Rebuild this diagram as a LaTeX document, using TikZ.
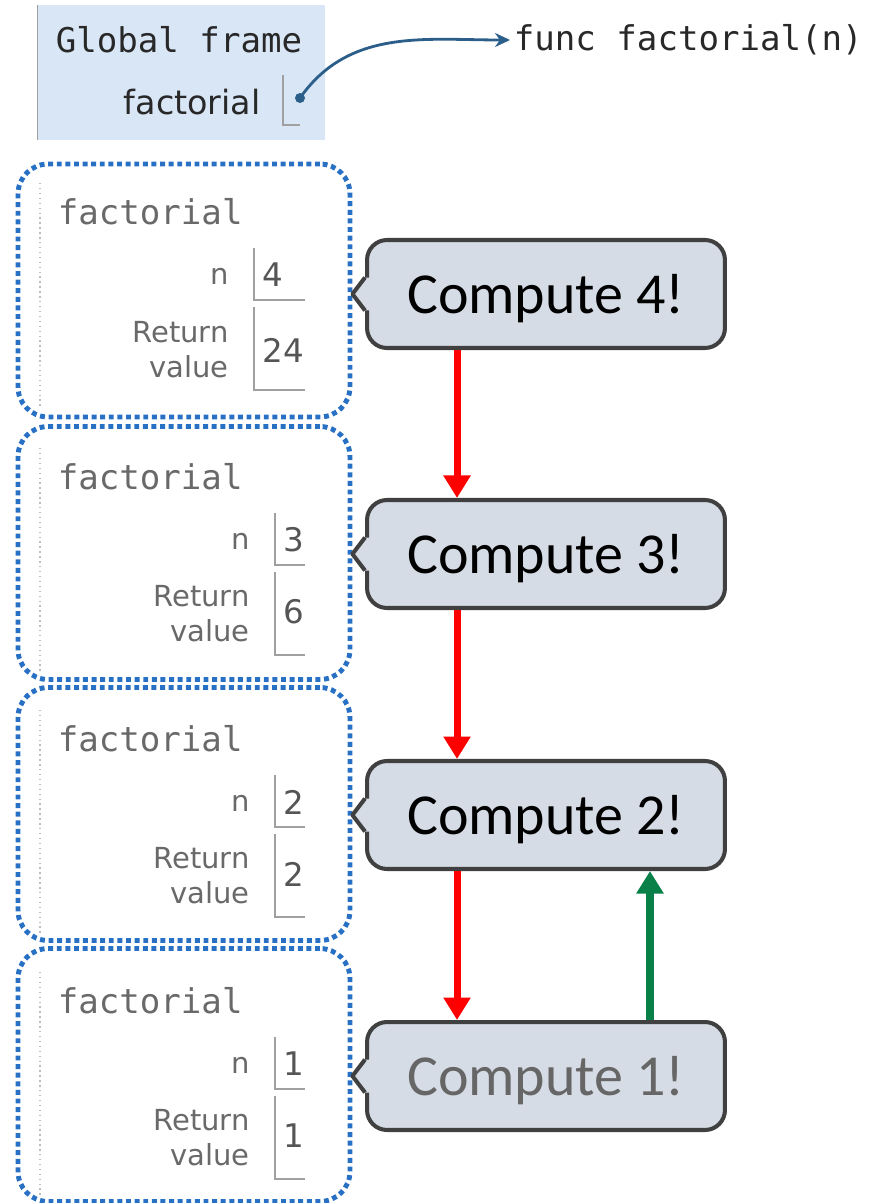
\documentclass[tikz,border=0pt]{standalone}
\usepackage{fontspec}
\usepackage{tikz}
\usetikzlibrary{arrows.meta}
\setmainfont{Carlito}
\newfontfamily\codefont{DejaVu Sans Mono}
\newfontfamily\varfont{DejaVu Sans}
\definecolor{globalblue}{RGB}{217,230,246}
\definecolor{framedot}{RGB}{39,112,196}
\definecolor{calloutfill}{RGB}{214,220,229}
\definecolor{calloutline}{RGB}{64,64,64}
\definecolor{arrowred}{RGB}{255,0,0}
\definecolor{arrowgreen}{RGB}{8,128,72}
\definecolor{pointerblue}{RGB}{44,94,138}
\definecolor{labelgray}{RGB}{105,105,105}
\definecolor{valuegray}{RGB}{85,85,85}
\definecolor{linegray}{RGB}{160,160,160}
\definecolor{codedark}{RGB}{40,40,40}

\begin{document}
\begin{tikzpicture}[x=0.02cm,y=-0.02cm,
  frame box/.style={draw=framedot, line width=2.8pt, dash pattern=on 2.8pt off 2.1pt,
    rounded corners=0.6cm, minimum width=6.64cm, minimum height=5.06cm, inner sep=0pt},
  compute box/.style={draw=calloutline, fill=calloutfill, line width=2.3pt, rounded corners=0.4cm,
    minimum width=7.16cm, minimum height=2.16cm, text depth=0pt, font=\fontsize{33}{36}\selectfont},
  compute edge/.style={draw=calloutline, line width=2.3pt, line join=round},
  callarrow/.style={line width=4pt, -{Triangle[width=0.52cm,length=0.45cm]}},
  pointer/.style={pointerblue, line width=1.6pt, -{Stealth[length=0.3cm,width=0.28cm]}},
  codetext/.style={text=codedark, font=\codefont\fontsize{19.4}{22}\selectfont, inner sep=2pt},
  varlabel/.style={anchor=east, text=labelgray, align=right, inner sep=0pt,
    font=\varfont\fontsize{16.5}{19.8}\selectfont},
  value/.style={anchor=west, text=valuegray, inner sep=0pt, font=\varfont\fontsize{18.5}{20}\selectfont},
  valline/.style={draw=linegray, line width=0.9pt},
  guide/.style={draw=linegray!70, line width=0.8pt, dotted},
]
\useasboundingbox (0,0) rectangle (888,1203);

% Global frame
\node[fill=globalblue, minimum width=5.74cm, minimum height=2.7cm, inner sep=0pt] (glob) at (181.5,72.5) {};
\draw[linegray, line width=0.8pt] (glob.north west) -- (glob.south west);
\node[codetext, anchor=west] (globlbl) at (52,40) {Global frame};
\node[anchor=east, text=codedark, inner sep=0pt, font=\varfont\fontsize{19}{22}\selectfont] (globvar) at (261,102) {factorial};
\draw[valline] (283,75) |- (300,125);
\coordinate (fdot) at (300,98);
\fill[pointerblue] (fdot) circle (0.1cm);
\node[codetext, anchor=west] (fobj) at (510,40) {func factorial(n)};
\draw[pointer] (fdot) to[out=55,in=180] (fobj.west);

% Frame for n=4
\node[frame box] (frame4) at (184,290.5) {};
\draw[guide] (40,183) -- (40,408);
\node[codetext, text=labelgray, anchor=west] (name4) at (54,212) {factorial};
\node[varlabel] (n4) at (229,276) {n};
\draw[valline] (254,248) |- (305,300);
\node[value] (nval4) at (262,275) {4};
\node[varlabel] (ret4) at (229,350) {Return\\value};
\draw[valline] (254,307) |- (305,390);
\node[value] (rval4) at (262,350) {24};

% Frame for n=3
\node[frame box] (frame3) at (184,553) {};
\draw[guide] (40,448) -- (40,673);
\node[codetext, text=labelgray, anchor=west] (name3) at (54,477) {factorial};
\node[varlabel] (n3) at (250,541) {n};
\draw[valline] (275,513) |- (305,565);
\node[value] (nval3) at (283,540) {3};
\node[varlabel] (ret3) at (250,614) {Return\\value};
\draw[valline] (275,572) |- (305,655);
\node[value] (rval3) at (283,612) {6};

% Frame for n=2
\node[frame box] (frame2) at (184,814) {};
\draw[guide] (40,710) -- (40,935);
\node[codetext, text=labelgray, anchor=west] (name2) at (54,739) {factorial};
\node[varlabel] (n2) at (250,803) {n};
\draw[valline] (275,775) |- (305,827);
\node[value] (nval2) at (283,802) {2};
\node[varlabel] (ret2) at (250,876) {Return\\value};
\draw[valline] (275,834) |- (305,917);
\node[value] (rval2) at (283,874) {2};

% Frame for n=1
\node[frame box] (frame1) at (184,1075) {};
\draw[guide] (40,972) -- (40,1197);
\node[codetext, text=labelgray, anchor=west] (name1) at (54,1001) {factorial};
\node[varlabel] (n1) at (250,1065) {n};
\draw[valline] (275,1037) |- (305,1089);
\node[value] (nval1) at (283,1064) {1};
\node[varlabel] (ret1) at (250,1138) {Return\\value};
\draw[valline] (275,1096) |- (305,1179);
\node[value] (rval1) at (283,1136) {1};

% Compute callouts
\node[compute box] (comp4) at (546,294) {Compute 4!};
\node[compute box] (comp3) at (546,554) {Compute 3!};
\node[compute box] (comp2) at (546,815) {Compute 2!};
\node[compute box, text=valuegray!90] (comp1) at (546,1076) {Compute 1!};

% Callout pointers
\coordinate (tip4) at (frame4.east |- comp4.west);
\coordinate (tip3) at (frame3.east |- comp3.west);
\coordinate (tip2) at (frame2.east |- comp2.west);
\coordinate (tip1) at (frame1.east |- comp1.west);
\fill[calloutfill] ([yshift=0.33cm]comp4.west) -- (tip4) -- ([yshift=-0.33cm]comp4.west) -- ([xshift=4pt,yshift=-0.33cm]comp4.west) -- ([xshift=4pt,yshift=0.33cm]comp4.west) -- cycle;
\draw[compute edge] ([yshift=0.33cm]comp4.west) -- (tip4) -- ([yshift=-0.33cm]comp4.west);
\fill[calloutfill] ([yshift=0.33cm]comp3.west) -- (tip3) -- ([yshift=-0.33cm]comp3.west) -- ([xshift=4pt,yshift=-0.33cm]comp3.west) -- ([xshift=4pt,yshift=0.33cm]comp3.west) -- cycle;
\draw[compute edge] ([yshift=0.33cm]comp3.west) -- (tip3) -- ([yshift=-0.33cm]comp3.west);
\fill[calloutfill] ([yshift=0.33cm]comp2.west) -- (tip2) -- ([yshift=-0.33cm]comp2.west) -- ([xshift=4pt,yshift=-0.33cm]comp2.west) -- ([xshift=4pt,yshift=0.33cm]comp2.west) -- cycle;
\draw[compute edge] ([yshift=0.33cm]comp2.west) -- (tip2) -- ([yshift=-0.33cm]comp2.west);
\fill[calloutfill] ([yshift=0.33cm]comp1.west) -- (tip1) -- ([yshift=-0.33cm]comp1.west) -- ([xshift=4pt,yshift=-0.33cm]comp1.west) -- ([xshift=4pt,yshift=0.33cm]comp1.west) -- cycle;
\draw[compute edge] ([yshift=0.33cm]comp1.west) -- (tip1) -- ([yshift=-0.33cm]comp1.west);

% Calls down, return up
\draw[callarrow, arrowred] ([xshift=-1.78cm]comp4.south) -- ([xshift=-1.78cm]comp3.north);
\draw[callarrow, arrowred] ([xshift=-1.78cm]comp3.south) -- ([xshift=-1.78cm]comp2.north);
\draw[callarrow, arrowred] ([xshift=-1.78cm]comp2.south) -- ([xshift=-1.78cm]comp1.north);
\draw[callarrow, arrowgreen] ([xshift=2.08cm]comp1.north) -- ([xshift=2.08cm]comp2.south);
\end{tikzpicture}
\end{document}
